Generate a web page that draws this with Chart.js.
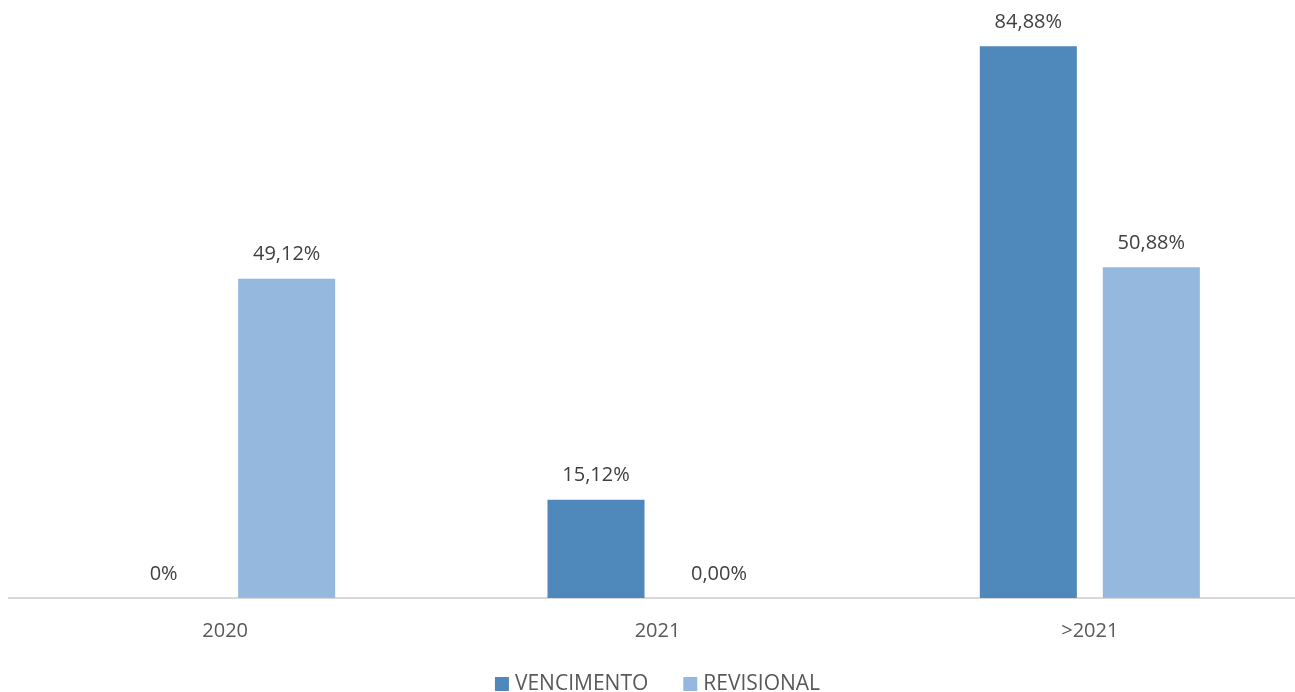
<!DOCTYPE html>
<html>
<head>
<meta charset="utf-8">
<script src="https://cdn.jsdelivr.net/npm/chart.js@4"></script>
<style>
  html, body { margin: 0; padding: 0; background: #fff; overflow: hidden; }
  #wrap { position: relative; width: 1306px; height: 692px; }
</style>
</head>
<body>
<div id="wrap"><canvas id="vencChart"></canvas></div>
<script>
const categories = ['2020', '2021', '>2021'];
const vencimento = [0, 15.12, 84.88];
const revisional = [49.12, 0, 50.88];
// labels as shown on the chart (the zeros are formatted differently)
const vencimentoLabels = ['0%', '15,12%', '84,88%'];
const revisionalLabels = ['49,12%', '0,00%', '50,88%'];

const barLabels = {
  id: 'barLabels',
  afterDatasetsDraw(chart) {
    const ctx = chart.ctx;
    ctx.save();
    ctx.font = '20px "Open Sans"';
    ctx.fillStyle = '#404040';
    ctx.textAlign = 'center';
    ctx.textBaseline = 'middle';
    chart.data.datasets.forEach((ds, i) => {
      chart.getDatasetMeta(i).data.forEach((bar, j) => {
        ctx.fillText(ds.valueLabels[j], bar.x, bar.y - 24);
      });
    });
    ctx.restore();
  }
};

// simple legend at the bottom: square, small gap, label, wide gap
const bottomLegend = {
  id: 'bottomLegend',
  afterDraw(chart) {
    const ctx = chart.ctx;
    const box = 14, textGap = 6, itemGap = 35;
    ctx.save();
    ctx.font = '21px "Open Sans"';
    ctx.textBaseline = 'middle';
    ctx.textAlign = 'left';
    const items = chart.data.datasets.map(ds => ({
      text: ds.label,
      color: ds.backgroundColor,
      w: box + textGap + ctx.measureText(ds.label).width
    }));
    const total = items.reduce((s, it) => s + it.w, 0) + itemGap * (items.length - 1);
    const y = chart.height - 8;
    let x = (chart.chartArea.left + chart.chartArea.right) / 2 - total / 2;
    items.forEach(it => {
      ctx.fillStyle = it.color;
      ctx.fillRect(x, y - box / 2, box, box);
      ctx.fillStyle = '#595959';
      ctx.fillText(it.text, x + box + textGap, y);
      x += it.w + itemGap;
    });
    ctx.restore();
  }
};

const vencChart = document.getElementById('vencChart');

new Chart(vencChart, {
  type: 'bar',
  data: {
    labels: categories,
    datasets: [{
      label: 'VENCIMENTO',
      data: vencimento,
      valueLabels: vencimentoLabels,
      backgroundColor: '#4F88BB',
      borderWidth: 0
    }, {
      label: 'REVISIONAL',
      data: revisional,
      valueLabels: revisionalLabels,
      backgroundColor: '#95B8DF',
      borderWidth: 0
    }]
  },
  options: {
    responsive: true,
    maintainAspectRatio: false,
    animation: false,
    categoryPercentage: 0.569,
    barPercentage: 0.789,
    layout: { padding: { left: 9, top: 0, right: 0, bottom: 28 } },
    scales: {
      x: {
        grid: { display: false, drawTicks: false },
        border: { color: '#D9D9D9', width: 2 },
        ticks: { color: '#595959', font: { family: 'Open Sans', size: 20 }, padding: 21 }
      },
      y: {
        display: false,
        min: 0,
        max: 92
      }
    },
    plugins: {
      legend: { display: false },
      tooltip: { enabled: false }
    }
  },
  plugins: [barLabels, bottomLegend]
});
</script>
</body>
</html>
